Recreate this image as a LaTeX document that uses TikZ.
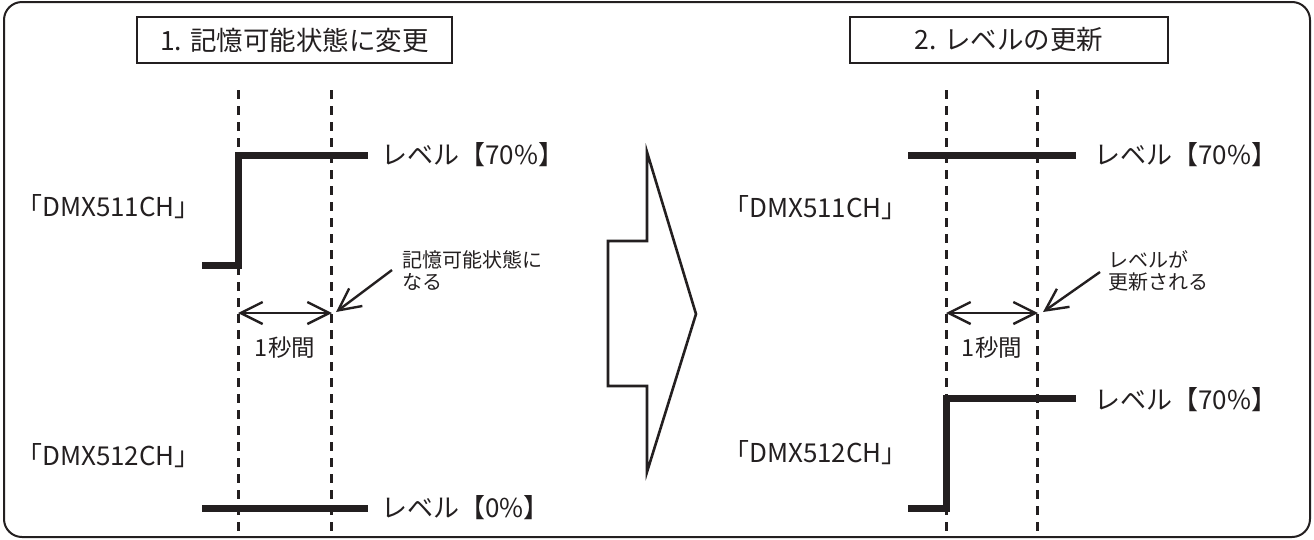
\documentclass[tikz,border=0pt]{standalone}
\usepackage{fontspec}
\setmainfont{Noto Sans CJK JP}
\usetikzlibrary{arrows.meta}
\definecolor{ink}{RGB}{35,31,32}
\begin{document}
\begin{tikzpicture}[x=1pt,y=-1pt,
  frame/.style={draw=ink,line width=2pt,rounded corners=18pt},
  titlebox/.style={draw=ink,line width=2pt,inner sep=0pt,text=ink,minimum height=46pt,font=\fontsize{26.5}{30}\selectfont},
  lbl/.style={inner sep=0pt,text=ink,font=\fontsize{26}{30}\selectfont},
  sec/.style={inner sep=0pt,text=ink,font=\fontsize{23.5}{28}\selectfont},
  annot/.style={inner sep=0pt,text=ink,align=left,font=\fontsize{20}{22.5}\selectfont},
  sig/.style={draw=ink,line width=7pt,line join=miter},
  dashline/.style={draw=ink,line width=3pt,dash pattern=on 9pt off 7pt},
  dimline/.style={draw=ink,line width=2.4pt,{Straight Barb[length=22pt,width=22pt]}-{Straight Barb[length=22pt,width=22pt]}},
  callout/.style={draw=ink,line width=2.4pt,-{Straight Barb[length=22pt,width=22pt]}},
  bigarrow/.style={draw=ink,line width=2.6pt,line join=miter}]
\useasboundingbox (0,0) rectangle (1314,539);
\draw[frame] (4,2) rectangle (1310,537);

% titles
\node[titlebox,minimum width=315pt] (t1) at (294.5,40) {1. 記憶可能状態に変更};
\node[titlebox,minimum width=318pt] (t2) at (1009,40) {2. レベルの更新};

% ---------- left panel ----------
\coordinate (l1t) at (238,90); \coordinate (l1b) at (238,537);
\coordinate (l2t) at (331,90); \coordinate (l2b) at (331,537);
\draw[dashline] (l1t) -- (l1b);
\draw[dashline] (l2t) -- (l2b);
\draw[sig] (202,265) -- (238,265) -- (238,155) -- (368,155);
\draw[sig] (202,508) -- (368,508);
\node[lbl,anchor=west] (lv1) at (381,155) {レベル【70\%】};
\node[lbl,anchor=west] (lv0) at (381,508) {レベル【0\%】};
\node[lbl,anchor=west] (ch1) at (16,207) {「DMX511CH」};
\node[lbl,anchor=west] (ch2) at (16,456) {「DMX512CH」};
\coordinate (d1a) at (238,313); \coordinate (d1b) at (332,313);
\draw[dimline] (d1a) -- (d1b);
\node[sec] (s1) at (285,348) {1秒間};
\node[annot,anchor=north west] (n1) at (402,250) {記憶可能状態に\\なる};
\coordinate (c1s) at (392,270); \coordinate (c1e) at (336,312);
\draw[callout] (c1s) -- (c1e);

% ---------- big arrow ----------
\draw[bigarrow] (608,241) -- (647,241) -- (647,152) -- (696,314) -- (647,472) -- (647,386) -- (608,386) -- cycle;

% ---------- right panel ----------
\coordinate (r1t) at (946,90); \coordinate (r1b) at (946,537);
\coordinate (r2t) at (1037,90); \coordinate (r2b) at (1037,537);
\draw[dashline] (r1t) -- (r1b);
\draw[dashline] (r2t) -- (r2b);
\draw[sig] (908,155) -- (1076,155);
\draw[sig] (908,508) -- (946,508) -- (946,398) -- (1076,398);
\node[lbl,anchor=west] (rv1) at (1094,155) {レベル【70\%】};
\node[lbl,anchor=west] (rv2) at (1094,400) {レベル【70\%】};
\node[lbl,anchor=west] (rch1) at (723,208) {「DMX511CH」};
\node[lbl,anchor=west] (rch2) at (723,453) {「DMX512CH」};
\coordinate (d2a) at (946,313); \coordinate (d2b) at (1038,313);
\draw[dimline] (d2a) -- (d2b);
\node[sec] (s2) at (992,348) {1秒間};
\node[annot,anchor=north west] (n2) at (1108,250) {レベルが\\更新される};
\coordinate (c2s) at (1100,272); \coordinate (c2e) at (1043,312);
\draw[callout] (c2s) -- (c2e);
\end{tikzpicture}
\end{document}
